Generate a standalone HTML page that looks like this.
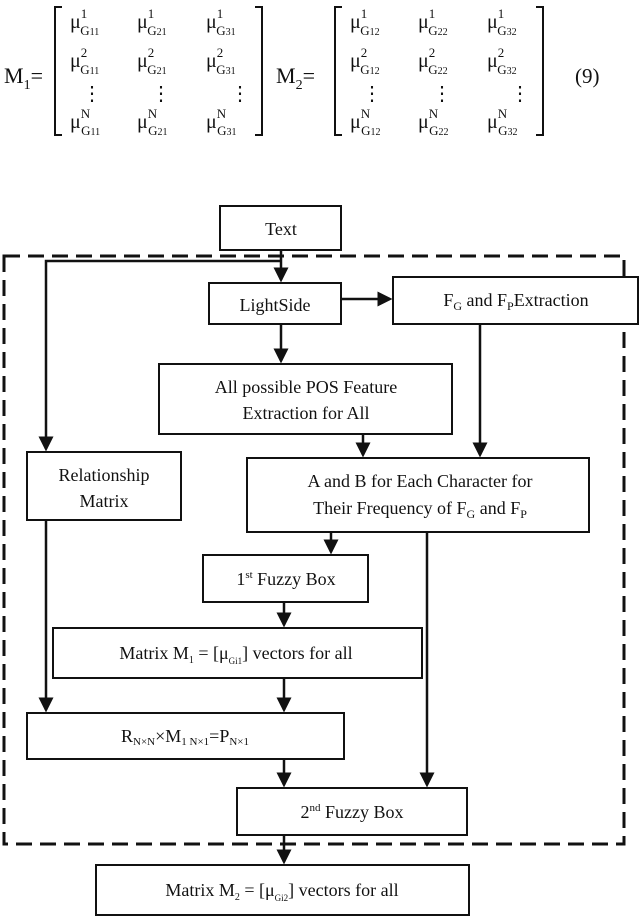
<!DOCTYPE html>
<html><head><meta charset="utf-8"><style>
html,body{margin:0;padding:0;background:#fff}
svg{display:block}
text{font-family:"Liberation Serif",serif;fill:#111}
</style></head><body>
<svg width="640" height="917" viewBox="0 0 640 917" xmlns="http://www.w3.org/2000/svg">
<defs>
<marker id="a" markerWidth="6" markerHeight="6" refX="5" refY="3" orient="auto" markerUnits="strokeWidth">
<path d="M0,0 L6,3 L0,6 z" fill="#111"/></marker>
</defs>
<!-- Equation -->
<g font-size="22">
<text x="4" y="83">M<tspan font-size="14" dy="6">1</tspan><tspan dy="-6">=</tspan></text>
<text x="276" y="83">M<tspan font-size="14" dy="6">2</tspan><tspan dy="-6">=</tspan></text>
<text x="575" y="83" font-size="21">(9)</text>
</g>
<g stroke="#111" stroke-width="2" fill="none">
<path d="M62,7 H55 V135 H62"/><path d="M255,7 H262 V135 H255"/>
<path d="M342,7 H335 V135 H342"/><path d="M536,7 H543 V135 H536"/>
</g>
<g font-size="20">
<!-- M1 -->
<text x="70" y="28">μ<tspan font-size="13" dy="-10">1</tspan><tspan font-size="13" dx="-7" dy="17">G<tspan font-size="10">11</tspan></tspan></text>
<text x="137" y="28">μ<tspan font-size="13" dy="-10">1</tspan><tspan font-size="13" dx="-7" dy="17">G<tspan font-size="10">21</tspan></tspan></text>
<text x="206" y="28">μ<tspan font-size="13" dy="-10">1</tspan><tspan font-size="13" dx="-7" dy="17">G<tspan font-size="10">31</tspan></tspan></text>
<text x="70" y="67">μ<tspan font-size="13" dy="-10">2</tspan><tspan font-size="13" dx="-7" dy="17">G<tspan font-size="10">11</tspan></tspan></text>
<text x="137" y="67">μ<tspan font-size="13" dy="-10">2</tspan><tspan font-size="13" dx="-7" dy="17">G<tspan font-size="10">21</tspan></tspan></text>
<text x="206" y="67">μ<tspan font-size="13" dy="-10">2</tspan><tspan font-size="13" dx="-7" dy="17">G<tspan font-size="10">31</tspan></tspan></text>
<text x="82" y="100">⋮</text><text x="151" y="100">⋮</text><text x="230" y="100">⋮</text>
<text x="70" y="128">μ<tspan font-size="13" dy="-10">N</tspan><tspan font-size="13" dx="-9" dy="17">G<tspan font-size="10">11</tspan></tspan></text>
<text x="137" y="128">μ<tspan font-size="13" dy="-10">N</tspan><tspan font-size="13" dx="-9" dy="17">G<tspan font-size="10">21</tspan></tspan></text>
<text x="206" y="128">μ<tspan font-size="13" dy="-10">N</tspan><tspan font-size="13" dx="-9" dy="17">G<tspan font-size="10">31</tspan></tspan></text>
<!-- M2 -->
<text x="350" y="28">μ<tspan font-size="13" dy="-10">1</tspan><tspan font-size="13" dx="-7" dy="17">G<tspan font-size="10">12</tspan></tspan></text>
<text x="418" y="28">μ<tspan font-size="13" dy="-10">1</tspan><tspan font-size="13" dx="-7" dy="17">G<tspan font-size="10">22</tspan></tspan></text>
<text x="487" y="28">μ<tspan font-size="13" dy="-10">1</tspan><tspan font-size="13" dx="-7" dy="17">G<tspan font-size="10">32</tspan></tspan></text>
<text x="350" y="67">μ<tspan font-size="13" dy="-10">2</tspan><tspan font-size="13" dx="-7" dy="17">G<tspan font-size="10">12</tspan></tspan></text>
<text x="418" y="67">μ<tspan font-size="13" dy="-10">2</tspan><tspan font-size="13" dx="-7" dy="17">G<tspan font-size="10">22</tspan></tspan></text>
<text x="487" y="67">μ<tspan font-size="13" dy="-10">2</tspan><tspan font-size="13" dx="-7" dy="17">G<tspan font-size="10">32</tspan></tspan></text>
<text x="362" y="100">⋮</text><text x="432" y="100">⋮</text><text x="510" y="100">⋮</text>
<text x="350" y="128">μ<tspan font-size="13" dy="-10">N</tspan><tspan font-size="13" dx="-9" dy="17">G<tspan font-size="10">12</tspan></tspan></text>
<text x="418" y="128">μ<tspan font-size="13" dy="-10">N</tspan><tspan font-size="13" dx="-9" dy="17">G<tspan font-size="10">22</tspan></tspan></text>
<text x="487" y="128">μ<tspan font-size="13" dy="-10">N</tspan><tspan font-size="13" dx="-9" dy="17">G<tspan font-size="10">32</tspan></tspan></text>
</g>
<!-- dashed container -->
<rect x="4" y="256" width="620" height="588" fill="none" stroke="#111" stroke-width="3" stroke-dasharray="16,8"/>
<!-- boxes -->
<g fill="#fff" stroke="#111" stroke-width="2">
<rect x="220" y="206" width="121" height="44"/>
<rect x="209" y="283" width="132" height="41"/>
<rect x="393" y="277" width="245" height="47"/>
<rect x="159" y="364" width="293" height="70"/>
<rect x="27" y="452" width="154" height="68"/>
<rect x="247" y="458" width="342" height="74"/>
<rect x="203" y="555" width="165" height="47"/>
<rect x="53" y="628" width="369" height="50"/>
<rect x="27" y="713" width="317" height="46"/>
<rect x="237" y="788" width="230" height="47"/>
<rect x="96" y="865" width="373" height="50"/>
</g>
<!-- connectors -->
<g stroke="#111" stroke-width="2.5" fill="none" marker-end="url(#a)">
<path d="M281,250 V280"/>
<path d="M281,261 H46 V449"/>
<path d="M341,299 H390"/>
<path d="M281,324 V361"/>
<path d="M363,434 V455"/>
<path d="M480,324 V455"/>
<path d="M331,532 V552"/>
<path d="M284,602 V625"/>
<path d="M284,678 V710"/>
<path d="M46,520 V710"/>
<path d="M284,759 V785"/>
<path d="M427,532 V785"/>
<path d="M284,835 V862"/>
</g>
<!-- labels -->
<g font-size="18" text-anchor="middle">
<text x="281" y="235">Text</text>
<text x="275" y="311">LightSide</text>
<text x="516" y="306">F<tspan font-size="12" dy="4">G</tspan><tspan dy="-4"> and F</tspan><tspan font-size="12" dy="4">P</tspan><tspan dy="-4">Extraction</tspan></text>
<text x="306" y="393">All possible POS Feature</text>
<text x="306" y="419">Extraction for All</text>
<text x="104" y="481">Relationship</text>
<text x="104" y="507">Matrix</text>
<text x="420" y="487">A and B for Each Character for</text>
<text x="420" y="514">Their Frequency of F<tspan font-size="12" dy="4">G</tspan><tspan dy="-4"> and F</tspan><tspan font-size="12" dy="4">P</tspan></text>
<text x="286" y="585">1<tspan font-size="11" dy="-7">st</tspan><tspan dy="7"> Fuzzy Box</tspan></text>
<text x="236" y="659">Matrix M<tspan font-size="10" dy="4">1</tspan><tspan dy="-4"> = [μ</tspan><tspan font-size="9" dy="5">Gi1</tspan><tspan dy="-5">] vectors for all</tspan></text>
<text x="185" y="742">R<tspan font-size="11" dy="3">N×N</tspan><tspan dy="-3">×M</tspan><tspan font-size="11" dy="3">1 N×1</tspan><tspan dy="-3">=P</tspan><tspan font-size="11" dy="3">N×1</tspan></text>
<text x="352" y="818">2<tspan font-size="11" dy="-7">nd</tspan><tspan dy="7"> Fuzzy Box</tspan></text>
<text x="282" y="896">Matrix M<tspan font-size="10" dy="4">2</tspan><tspan dy="-4"> = [μ</tspan><tspan font-size="9" dy="5">Gi2</tspan><tspan dy="-5">] vectors for all</tspan></text>
</g>
</svg>
</body></html>
